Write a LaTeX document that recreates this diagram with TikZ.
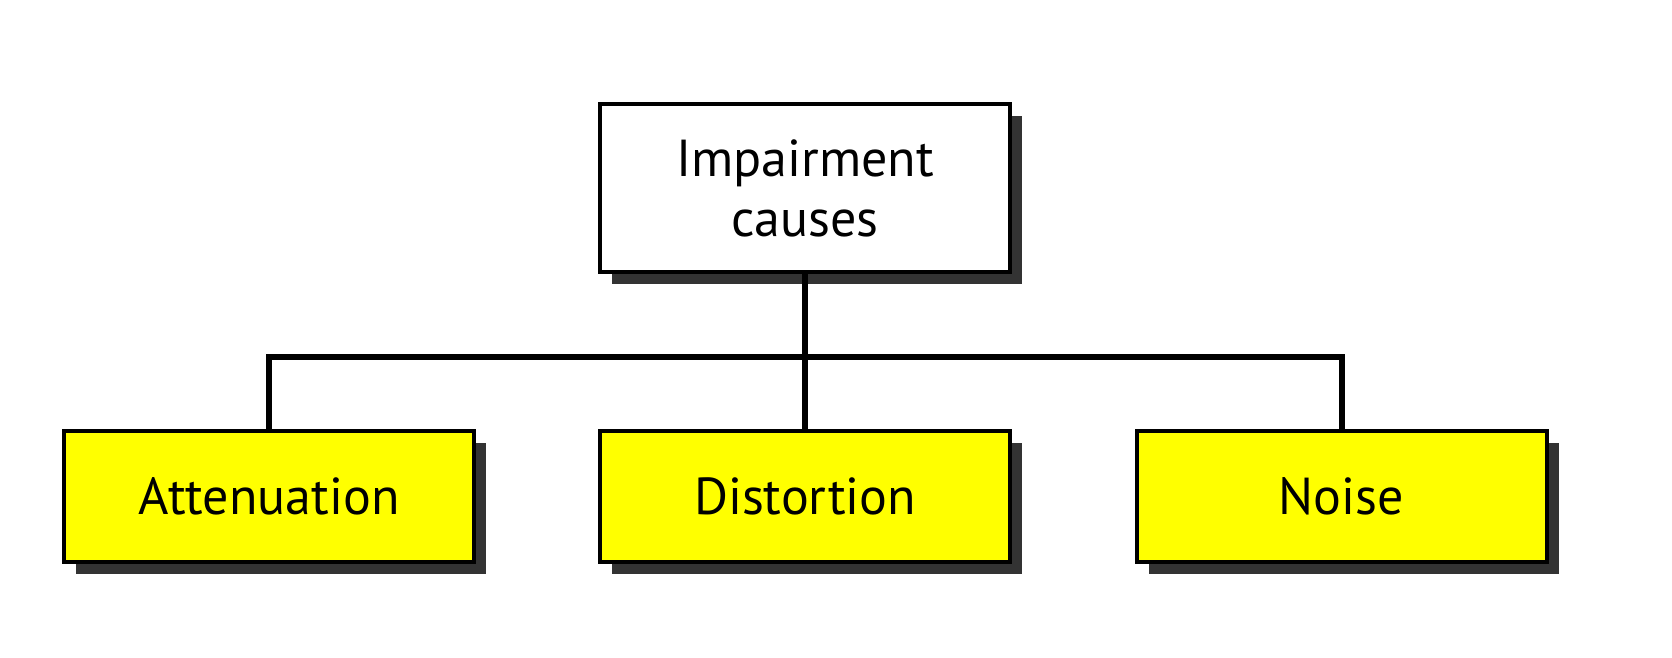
\documentclass[tikz,border=0pt]{standalone}
\usepackage{fontspec}
\setmainfont{PT Sans}
\usetikzlibrary{shadows}
\definecolor{boxyellow}{RGB}{255,255,0}
\definecolor{shadowgray}{RGB}{51,51,51}
\tikzset{
  cbox/.style={draw=black, line width=2pt, align=center, inner sep=0pt,
    minimum width=205pt, font=\fontsize{26}{30}\selectfont,
    drop shadow={shadow xshift=6pt, shadow yshift=-6pt, fill=shadowgray, opacity=1}},
  topbox/.style={cbox, fill=white, minimum height=83.5pt},
  leafbox/.style={cbox, fill=boxyellow, minimum height=65.5pt},
  conn/.style={draw=black, line width=3pt}
}
\begin{document}
\begin{tikzpicture}[x=0.5pt,y=-0.5pt]
  \useasboundingbox (0,0) rectangle (1672,658);
  \node[topbox] (top) at (805,188) {Impairment\\causes};
  \node[leafbox] (att) at (269,496.5) {Attenuation};
  \node[leafbox] (dist) at (805,496.5) {Distortion};
  \node[leafbox] (noise) at (1341.5,496.5) {Noise};
  \coordinate (j) at (805,357);
  \draw[conn] (top.south) -- (dist.north);
  \draw[conn] (att.north) |- (j) -| (noise.north);
\end{tikzpicture}
\end{document}
